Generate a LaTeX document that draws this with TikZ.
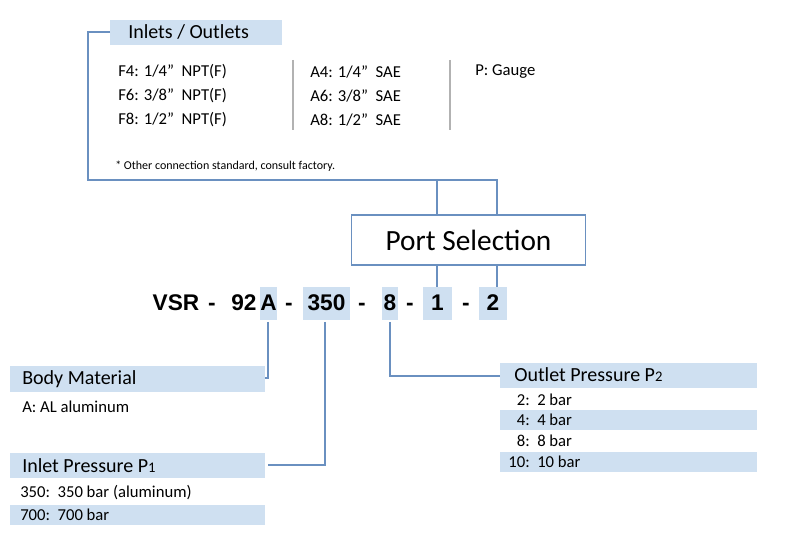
\documentclass[tikz,border=0pt]{standalone}
\usepackage{fontspec}
\setmainfont{Carlito}
\newfontfamily\codefont{Liberation Sans}
\usetikzlibrary{positioning,calc}
\definecolor{hilite}{HTML}{CFE0F1}
\definecolor{wire}{HTML}{6A90C0}
\tikzset{%
  row/.style={anchor=west,inner sep=0,font=\fontsize{12.5}{14}\selectfont},
  headrow/.style={row,font=\fontsize{15}{17}\selectfont},
  band/.style={fill=hilite,draw=none},
  code/.style={inner sep=0,anchor=base,font=\codefont\bfseries\fontsize{17}{19}\selectfont},
}
\begin{document}
\begin{tikzpicture}[x=0.75pt,y=-0.75pt,
            link/.style={draw=wire,line width=0.9pt}
            ]
            \useasboundingbox (0,0) rectangle (800,559);
            % highlight bands
            \fill[band] (110,20) rectangle (282,45);
            \fill[band] (10,366) rectangle (265,392);
            \fill[band] (10,453) rectangle (265,478);
            \fill[band] (10,505) rectangle (265,525);
            \fill[band] (500,363) rectangle (757,388);
            \fill[band] (500,410) rectangle (757,430);
            \fill[band] (500,452) rectangle (757,472);
            \fill[band] (260,287) rectangle (277,320);
            \fill[band] (303,287) rectangle (350,320);
            \fill[band] (382,287) rectangle (398,320);
            \fill[band] (423,287) rectangle (452,320);
            \fill[band] (479,287) rectangle (507,320);
            % headings
            \coordinate (inL) at (110,32);
            \node[headrow] (inout) at (128,32) {Inlets / Outlets};
            \node[headrow] (body) at (22,379) {Body Material};
            \node[headrow] (inlet) at (22,466) {Inlet Pressure P{\fontsize{11}{12}\selectfont 1}};
            \node[headrow] (outlet) at (514,375) {Outlet Pressure P{\fontsize{11}{12}\selectfont 2}};
            \node[draw=wire,line width=0.9pt,minimum width=175.5pt,minimum height=37.5pt,
                  font=\fontsize{22}{24}\selectfont] (port) at (468.5,240) {Port Selection};
            % connection table
            \node[row] (f4) at (118,72) {F4: 1/4”\ \ NPT(F)};
            \node[row] (f6) at (118,96) {F6: 3/8”\ \ NPT(F)};
            \node[row] (f8) at (118,120) {F8: 1/2”\ \ NPT(F)};
            \node[row] (a4) at (310,72) {A4: 1/4”\ \ SAE};
            \node[row] (a6) at (310,96) {A6: 3/8”\ \ SAE};
            \node[row] (a8) at (310,120) {A8: 1/2”\ \ SAE};
            \node[row] (gauge) at (475,72) {P: Gauge};
            \draw[gray!60,line width=0.8pt] (293,60) -- (293,130) (450,60) -- (450,130);
            \node[row,font=\fontsize{9}{10}\selectfont] (note) at (115,166) {* Other connection standard, consult factory.};
            % order code
            \node[code] (vsr) at (176,311) {VSR};
            \node[code] (d1) at (212,311) {-};
            \node[code] (c92) at (244,311) {92};
            \node[code] (cA) at (268.5,311) {A};
            \node[code] (d2) at (289,311) {-};
            \node[code] (c350) at (326.5,311) {350};
            \node[code] (d3) at (362,311) {-};
            \node[code] (c8) at (390,311) {8};
            \node[code] (d4) at (410,311) {-};
            \node[code] (c1) at (437.5,311) {1};
            \node[code] (d5) at (466,311) {-};
            \node[code] (c2) at (493,311) {2};
            % lists
            \node[row] (alu) at (22,407) {A: AL aluminum};
            \node[row] (p350) at (20,493) {350:\ \ 350 bar (aluminum)};
            \node[row] (p700) at (20,515) {700:\ \ 700 bar};
            \foreach \yy/\kk/\vv in {400/2:/2 bar,420/4:/4 bar,441/8:/8 bar,462/10:/10 bar}
            {
              \node[row,anchor=east] at (530,\yy) {\kk};
              \node[row] at (537,\yy) {\vv};
            }
            % links
            \coordinate (topL) at (88,180);
            \draw[link] (inL) -- (88,32) -- (topL) -- (497,180) -- (497,215);
            \draw[link] (437,180) -- (437,215);
            \draw[link] (437,265) -- (437,287) (497,265) -- (497,287);
            \draw[link] (268,322) -- (268,378) -- (265,378);
            \draw[link] (325,322) -- (325,465) -- (268,465);
            \draw[link] (390,322) -- (390,376) -- (500,376);
\end{tikzpicture}
\end{document}
